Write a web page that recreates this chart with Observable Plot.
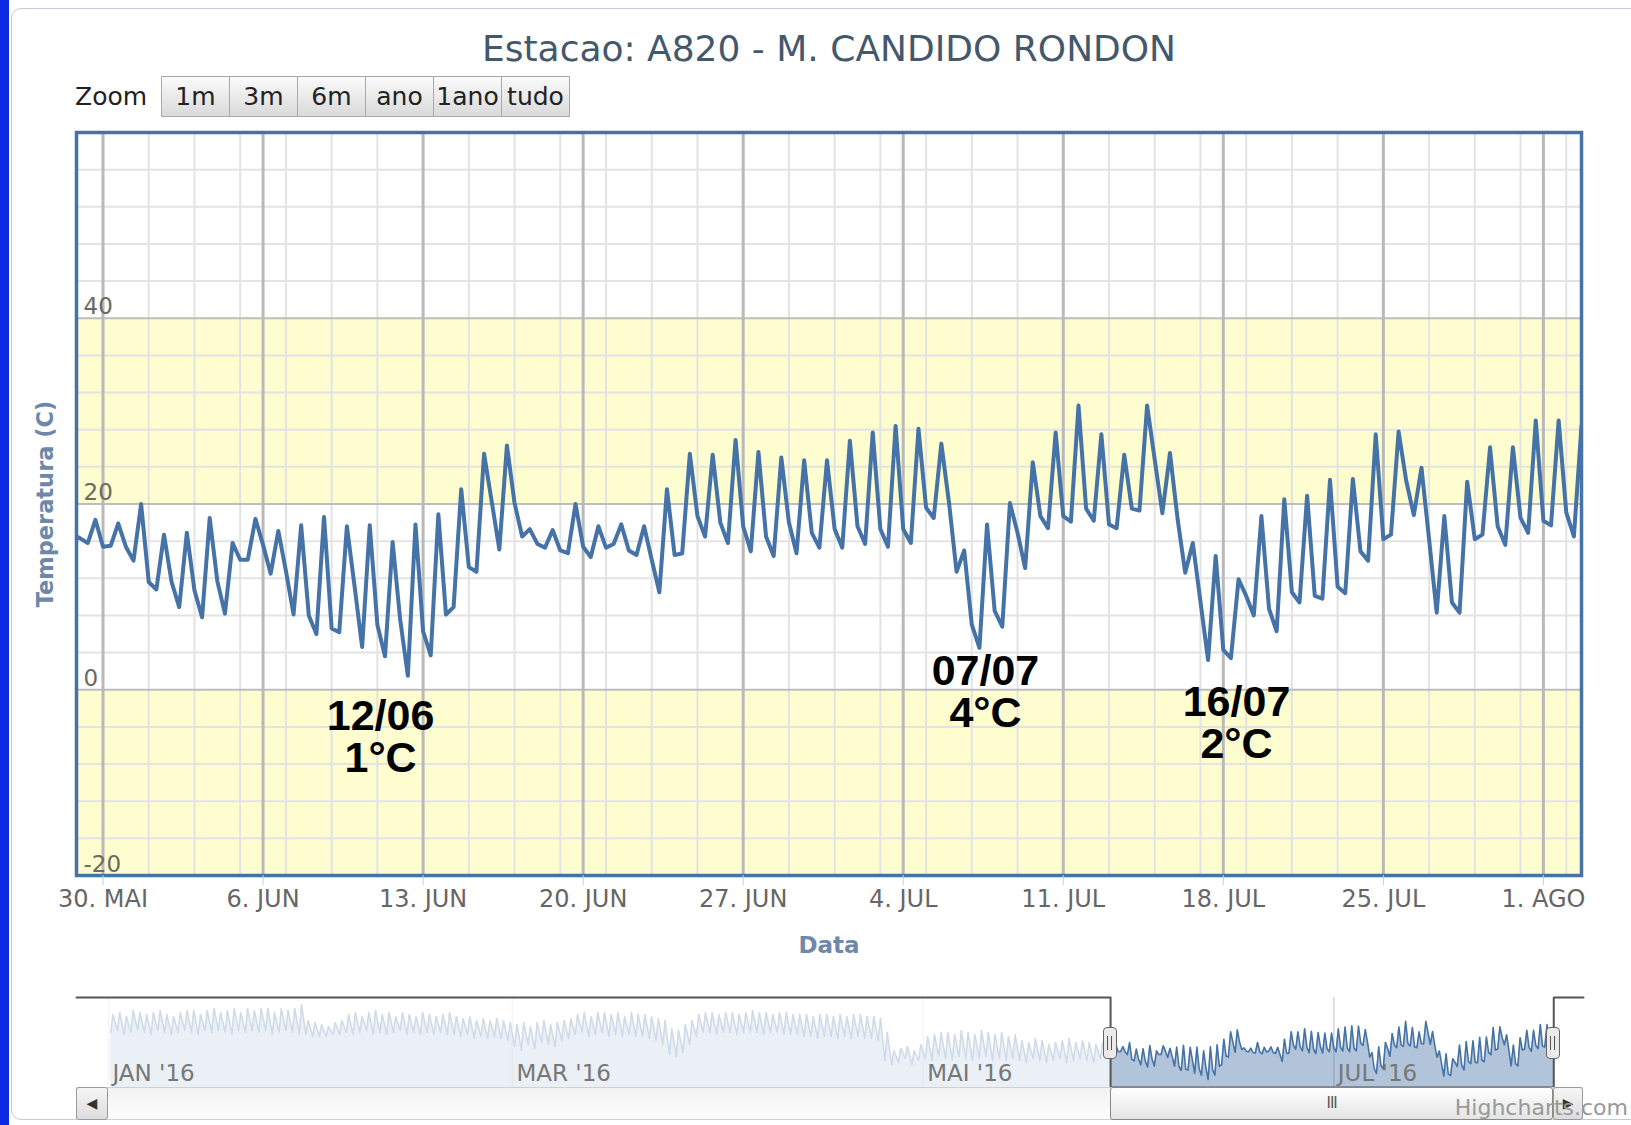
<!DOCTYPE html>
<html><head><meta charset="utf-8">
<script src="https://cdn.jsdelivr.net/npm/d3@7"></script>
<script src="https://cdn.jsdelivr.net/npm/@observablehq/plot@0.6"></script>
<style>
html,body{margin:0;padding:0;background:#fff;}
body{width:1631px;height:1125px;overflow:hidden;position:relative;font-family:"DejaVu Sans",sans-serif;}
.abs{position:absolute;}
#bluebar{left:0;top:0;width:9px;height:1125px;background:#0a2ae4;}
#box{left:11px;top:8px;width:1700px;height:1112px;border:1.5px solid #c3ccd6;border-radius:10px;box-sizing:border-box;}
#title{left:0;width:1658px;top:28px;text-align:center;font-size:36px;color:#44586c;white-space:nowrap;}
#zoomlbl{left:75px;top:82px;font-size:25px;color:#222;}
#btns{left:162px;top:76px;height:41px;display:flex;}
.btn{width:69px;height:41px;box-sizing:border-box;border:1px solid #a9a9a9;margin-left:-1px;background:linear-gradient(#fafafa,#dadada);font-size:25px;color:#222;text-align:center;line-height:39px;}
#track{left:76px;top:1087px;width:1507px;height:33px;box-sizing:border-box;border:1px solid #d0d0d0;background:linear-gradient(#f2f2f2,#fdfdfd);}
.arrowbtn{top:1087px;width:32px;height:33px;box-sizing:border-box;border:1px solid #999;background:linear-gradient(#f6f6f6,#dcdcdc);border-radius:3px;font-size:14px;color:#333;text-align:center;line-height:31px;}
#thumb{top:1087px;height:33px;box-sizing:border-box;border:1.5px solid #888;border-radius:3px;background:linear-gradient(#ffffff,#e4e4e4);font-size:15px;color:#555;text-align:center;line-height:30px;letter-spacing:-1px;}
.handle{top:1027px;width:14px;height:32px;box-sizing:border-box;border:1.5px solid #666;border-radius:4px;background:#ece9ea;}
.handle::before{content:"";position:absolute;left:3px;top:8px;width:1px;height:14px;background:#555;}
.handle::after{content:"";position:absolute;left:7px;top:8px;width:1px;height:14px;background:#555;}
#credits{right:3px;top:1095px;font-size:22px;color:#999;}
</style></head><body>
<div id="bluebar" class="abs"></div>
<div id="box" class="abs"></div>
<div id="main" class="abs" style="left:0;top:0;"></div>
<div id="nav" class="abs" style="left:0;top:990px;"></div>
<div id="title" class="abs">Estacao: A820 - M. CANDIDO RONDON</div>
<div id="zoomlbl" class="abs">Zoom</div>
<div id="btns" class="abs"></div>
<div id="track" class="abs"></div>
<div id="credits" class="abs">Highcharts.com</div>
<script>
// ---------------- data ----------------
const zoomButtons = ["1m", "3m", "6m", "ano", "1ano", "tudo"];

// temperature readings every 8 hours, first one on 2016-05-28 16:00 UTC
const seriesStart = "2016-05-28T16:00Z";
const stepHours = 8;
const temps = [
16.7,16.3,15.8,18.3,15.4,15.5,17.9,15.4,13.9,20.0,11.6,10.8,16.7,11.6,8.9,16.9,10.7,7.8,18.5,11.7,
8.2,15.8,14.0,14.0,18.4,15.6,12.5,17.1,12.8,8.1,17.7,8.0,6.0,18.6,6.6,6.2,17.6,11.2,4.6,17.7,
7.0,3.6,15.9,7.5,1.5,17.8,6.3,3.7,18.9,8.1,8.9,21.6,13.2,12.7,25.4,20.3,15.1,26.3,20.1,16.5,
17.3,15.7,15.3,17.2,15.0,14.7,20.0,15.4,14.3,17.6,15.3,15.7,17.8,15.0,14.5,17.6,14.0,10.5,21.6,14.5,
14.7,25.4,18.7,16.5,25.3,18.0,15.8,26.9,17.6,14.9,25.6,16.5,14.4,25.0,18.0,14.7,24.7,16.9,15.3,24.7,
17.3,15.3,26.8,17.6,15.7,27.7,17.3,15.4,28.4,17.3,15.8,28.1,19.6,18.5,26.5,20.2,12.7,15.0,7.0,4.5,
17.8,8.5,6.8,20.1,16.9,13.1,24.5,18.7,17.4,27.7,18.7,18.1,30.6,19.5,18.2,27.5,17.8,17.4,25.3,19.5,
19.3,30.6,24.8,19.0,25.5,18.4,12.6,15.8,9.5,3.2,14.4,4.3,3.4,11.9,10.1,8.0,18.7,8.7,6.3,20.5,
10.5,9.4,20.9,10.1,9.8,22.6,11.1,10.4,22.7,14.9,13.9,27.5,16.2,16.7,27.8,22.5,18.8,23.9,16.2,8.3,
18.7,9.4,8.3,22.4,16.2,16.7,26.1,17.6,15.6,26.1,18.5,16.9,29.0,18.2,17.7,29.0,19.1,16.5,28.4
];

// navigator history (daily max / min), 2016-01-01 .. 2016-05-27
const navFirstDay = "2016-01-01T00:00Z";
const navHi = [
34,35,33,36,35,34,35,36,34,33,35,36,36,34,36,37,35,36,37,35,37,36,37,37,35,37,36,37,39,31,30,
29,28,30,31,34,35,33,35,36,34,35,33,35,34,33,35,34,33,34,35,33,32,33,31,32,31,32,31,30,
29,30,28,30,31,29,30,31,32,34,35,33,35,35,34,35,33,35,34,34,33,32,31,27,26,29,31,34,35,35,34,
35,35,34,35,36,35,35,34,35,35,34,34,34,33,34,34,33,34,33,34,34,33,33,32,25,16,17,18,16,19,
23,24,25,25,24,26,25,24,26,25,24,25,23,24,21,20,22,21,19,20,21,22,20,21,20,19,20
];
const navLo = [
25,26,24,25,26,25,24,26,25,24,25,26,25,24,26,25,26,25,24,26,25,26,25,26,24,25,26,25,24,24,23,
23,23,24,24,25,24,25,26,24,25,24,25,26,24,25,24,25,24,25,24,24,23,24,22,23,22,23,22,21,
18,16,19,17,20,19,18,21,22,24,25,23,24,25,23,24,23,24,23,23,22,21,19,14,13,15,19,23,25,25,24,
25,25,24,25,25,25,24,25,25,24,24,24,23,23,22,23,23,22,23,22,23,22,22,21,11,9,10,12,9,11,
12,11,13,12,11,13,12,11,12,13,11,12,11,12,11,10,12,11,10,11,12,10,11,12,11,10,12
];

const xDomain = ["2016-05-28T20:10Z", "2016-08-02T16:00Z"];
const yDomain = [-20, 60];
const yTicks = [-20, 0, 20, 40];
const yTickLabels = ["-20", "0", "20", "40"];
const yBands = [[20, 40], [-20, 0]];
const xTickDates = ["2016-05-30","2016-06-06","2016-06-13","2016-06-20","2016-06-27","2016-07-04","2016-07-11","2016-07-18","2016-07-25","2016-08-01"];
const xTickLabels = ["30. MAI","6. JUN","13. JUN","20. JUN","27. JUN","4. JUL","11. JUL","18. JUL","25. JUL","1. AGO"];
const yTitle = "Temperatura (C)";
const xTitle = "Data";

const annotTexts = ["12/06\n1°C", "07/07\n4°C", "16/07\n2°C"];
const annotDates = ["2016-06-11T03:20Z", "2016-07-07T14:20Z", "2016-07-18T13:50Z"];
const annotY = [-8.9, -4.06, -7.3];

const navDomain = ["2015-12-27T06:00Z", "2016-08-07T02:00Z"];
const navYDomain = [-2.5, 42.5];
const navTickDates = ["2016-01-01","2016-03-01","2016-05-01","2016-07-01"];
const navTickLabels = ["JAN '16","MAR '16","MAI '16","JUL '16"];

// ---------------- build ----------------
const H = 3600e3, D = 24 * H;
const t0 = new Date(seriesStart).getTime();
const series = temps.map((v, i) => ({date: new Date(t0 + i * stepHours * H), temp: v}));
const xd = xDomain.map(s => new Date(s));
const tickDates = xTickDates.map(s => new Date(s + "T00:00Z"));
const tickLabelOf = new Map(tickDates.map((d, i) => [+d, xTickLabels[i]]));
const minorX = d3.utcDay.range(xd[0], xd[1]).filter(d => Math.round(+d / D) % 2 === 1);
const minorY = d3.range(yDomain[0], yDomain[1] + 1, 4).filter(v => v % 20 !== 0);
const bands = yBands.map(([a, b]) => ({y1: a, y2: b}));
const yLab = yTicks.map((v, i) => ({y: v, label: yTickLabels[i]}));
const annots = annotTexts.map((t, i) => ({date: new Date(annotDates[i]), y: annotY[i], text: t}));

const main = Plot.plot({
  width: 1631, height: 960,
  marginLeft: 76, marginRight: 50, marginTop: 132, marginBottom: 85,
  style: {fontFamily: "DejaVu Sans", background: "transparent", overflow: "visible"},
  x: {type: "utc", domain: xd},
  y: {domain: yDomain, axis: null},
  marks: [
    Plot.rect(bands, {x1: () => xd[0], x2: () => xd[1], y1: "y1", y2: "y2", fill: "#fdfdd0"}),
    Plot.ruleX(minorX, {stroke: "#e3e3e3", strokeWidth: 2}),
    Plot.ruleY(minorY, {stroke: "#e3e3e3", strokeWidth: 2}),
    Plot.ruleY(yTicks, {stroke: "#bdbdbd", strokeWidth: 2}),
    Plot.ruleX(tickDates, {stroke: "#b9b9b9", strokeWidth: 3}),
    Plot.lineY(series, {x: "date", y: "temp", stroke: "#4572a7", strokeWidth: 4, strokeLinejoin: "round", clip: true}),
    Plot.frame({stroke: "#4572a7", strokeWidth: 3.5}),
    Plot.axisX({ticks: tickDates, tickFormat: d => tickLabelOf.get(+d), tickSize: 10, tickPadding: 4,
      fontSize: 24, fill: "#666", stroke: "#c0d0e0", label: null}),
    Plot.text(yLab, {x: () => xd[0], y: "y", text: "label", textAnchor: "start", lineAnchor: "bottom",
      dx: 7, dy: -4, fontSize: 23, fill: "#6a6a60"}),
    Plot.text([yTitle], {frameAnchor: "left", textAnchor: "middle", lineAnchor: "middle", rotate: -90, dx: -31,
      fontSize: 22.5, fontWeight: "bold", fill: "#6d88a9"}),
    Plot.text([xTitle], {frameAnchor: "bottom", lineAnchor: "middle", dy: 70, fontSize: 23, fontWeight: "bold", fill: "#6d88a9"}),
    Plot.text(annots, {x: "date", y: "y", text: "text", lineAnchor: "bottom", lineHeight: 0.977,
      fontSize: 43, fontWeight: "bold", fontFamily: "Liberation Sans", fill: "#000"})
  ]
});
document.getElementById("main").appendChild(main);

// navigator
const nf = new Date(navFirstDay).getTime();
const navSeries = [];
navHi.forEach((hi, k) => {
  navSeries.push({date: new Date(nf + k * D + 8 * H), temp: navLo[k]});
  navSeries.push({date: new Date(nf + k * D + 16 * H), temp: hi});
});
series.forEach(d => navSeries.push(d));
const nd = navDomain.map(s => new Date(s));
const navTicks = navTickDates.map((s, i) => ({date: new Date(s + "T00:00Z"), label: navTickLabels[i]}));
const masks = [{x1: nd[0], x2: xd[0]}, {x1: xd[1], x2: nd[1]}];
const outline = [
  {x: nd[0], y: navYDomain[1]}, {x: xd[0], y: navYDomain[1]}, {x: xd[0], y: navYDomain[0]},
  {x: xd[1], y: navYDomain[0]}, {x: xd[1], y: navYDomain[1]}, {x: nd[1], y: navYDomain[1]}
];
const nav = Plot.plot({
  width: 1631, height: 135,
  marginLeft: 76, marginRight: 48, marginTop: 7, marginBottom: 38,
  style: {fontFamily: "DejaVu Sans", background: "transparent", overflow: "visible"},
  x: {type: "utc", domain: nd, axis: null},
  y: {domain: navYDomain, axis: null},
  marks: [
    Plot.ruleX(navTicks, {x: "date", stroke: "#d6d6d6", strokeWidth: 1.5}),
    Plot.areaY(navSeries, {x: "date", y1: navYDomain[0], y2: "temp", fill: "#4572a7", fillOpacity: 0.42}),
    Plot.lineY(navSeries, {x: "date", y: "temp", stroke: "#4572a7", strokeWidth: 1.6}),
    Plot.rect(masks, {x1: "x1", x2: "x2", y1: navYDomain[0], y2: navYDomain[1], fill: "white", fillOpacity: 0.75}),
    Plot.text(navTicks, {x: "date", text: "label", frameAnchor: "bottom", lineAnchor: "bottom", textAnchor: "start",
      dx: 4, dy: -7, fontSize: 23, fill: "#777"}),
    Plot.line(outline, {x: "x", y: "y", stroke: "#555", strokeWidth: 2})
  ]
});
document.getElementById("nav").appendChild(nav);

// zoom buttons
const btns = document.getElementById("btns");
zoomButtons.forEach(b => { const e = document.createElement("div"); e.className = "btn"; e.textContent = b; btns.appendChild(e); });

// scrollbar + handles positioned through the navigator's x scale
const sx = nav.scale("x");
const xa = sx.apply(xd[0]), xb = sx.apply(xd[1]);
const L = sx.apply(nd[0]), R = sx.apply(nd[1]);
function add(cls, left, width, html, id) {
  const e = document.createElement("div");
  e.className = "abs " + cls; if (id) e.id = id;
  e.style.left = left + "px"; if (width != null) e.style.width = width + "px";
  e.innerHTML = html || ""; document.body.appendChild(e); return e;
}
add("arrowbtn", L, null, "&#9664;");
add("", xa, xb - xa, "III", "thumb");
add("arrowbtn", xb, R - xb, "&#9654;");
add("handle", xa - 7, null, "");
add("handle", xb - 7, null, "");
document.body.appendChild(document.getElementById("credits"));
</script>
</body></html>
